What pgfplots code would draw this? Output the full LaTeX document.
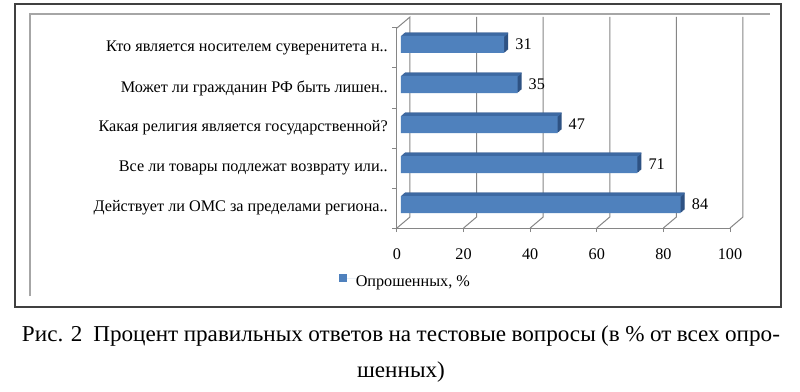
\documentclass[border=0pt]{standalone}
\usepackage{fontspec}
\setmainfont{Liberation Serif}
\newfontfamily\capfont[FakeStretch=1.02]{Liberation Serif}
\usepackage{pgfplots}
\pgfplotsset{compat=1.18}
\definecolor{gridgray}{HTML}{868686}
\definecolor{barfront}{HTML}{4F81BD}
\definecolor{bartop}{HTML}{3D69A2}
\definecolor{barside}{HTML}{2E5283}
\definecolor{framegray}{HTML}{404040}
\definecolor{innergray}{HTML}{A6A6A6}
\newcommand{\lblfont}{\fontsize{16.2}{19}\selectfont}
\begin{document}
\begin{tikzpicture}[x=1pt,y=1pt]
\useasboundingbox (-397,228) rectangle (403,-163);
\fill[white] (-397,228) rectangle (403,-163);
\draw[innergray, line width=1.2pt] (-367,-68) -- (-367,214) -- (373,214);
\draw[framegray, line width=1.6pt] (-382,224) rectangle (384,-79);
\begin{axis}[
  anchor=origin, at={(0pt,0pt)},
  x=3.33pt, y=1pt,
  xmin=0, xmax=100, ymin=0, ymax=200,
  clip=false,
  axis x line=bottom, axis y line=left,
  axis line style={gridgray, line width=1pt, -},
  tick align=outside,
  major tick length=4pt,
  tick style={gridgray, line width=1pt},
  y tick style={draw=none},
  xtick={0,20,40,60,80,100},
  ytick={20,60,100,140,180},
  yticklabels={Действует ли ОМС за пределами региона..,
               Все ли товары подлежат возврату или..,
               Какая религия является государственной?\hspace{10pt},
               Может ли гражданин РФ быть лишен..,
               Кто является носителем суверенитета н..},
  /pgf/number format/assume math mode=true,
  ticklabel style={font=\lblfont, text=black},
  yticklabel style={anchor=east, inner sep=0pt, xshift=-5pt},
  xticklabel style={anchor=base, inner sep=0pt, yshift=-27pt},
  legend style={at={(axis cs:-17.4,-53)}, anchor=west, draw=none, fill=none,
    inner sep=0pt, font=\lblfont, legend cell align=left,
    nodes={inner sep=0pt}},
  legend image code/.code={\fill[barfront] (0pt,-4pt) rectangle (8pt,4pt);
    \path (0pt,0pt) -- (16.5pt,0pt);},
]
% back wall and floor
\addplot[gridgray, line width=1pt, forget plot] coordinates {(0,0) (3.9,11) (3.9,211) (0,200)};
\addplot[gridgray, line width=1pt, forget plot] coordinates {(20,0) (23.9,11) (23.9,211)};
\addplot[gridgray, line width=1pt, forget plot] coordinates {(40,0) (43.9,11) (43.9,211)};
\addplot[gridgray, line width=1pt, forget plot] coordinates {(60,0) (63.9,11) (63.9,211)};
\addplot[gridgray, line width=1pt, forget plot] coordinates {(80,0) (83.9,11) (83.9,211)};
\addplot[gridgray, line width=1pt, forget plot] coordinates {(100,0) (103.9,11) (103.9,211)};
% y tick marks
\addplot[gridgray, line width=1pt, forget plot] coordinates {(-1.5,0) (0,0)};
\addplot[gridgray, line width=1pt, forget plot] coordinates {(-1.5,40) (0,40)};
\addplot[gridgray, line width=1pt, forget plot] coordinates {(-1.5,80) (0,80)};
\addplot[gridgray, line width=1pt, forget plot] coordinates {(-1.5,120) (0,120)};
\addplot[gridgray, line width=1pt, forget plot] coordinates {(-1.5,160) (0,160)};
\addplot[gridgray, line width=1pt, forget plot] coordinates {(-1.5,200) (0,200)};
% bar depth (side faces)
\pgfplotsinvokeforeach{1,2,3,4,5,6}{
\addplot[xbar, bar width=17, fill=barside, draw=none, forget plot,
  xshift=4pt+#1*0.667pt, yshift=3.5pt+#1*0.583pt]
  coordinates {(31,180) (35,140) (47,100) (71,60) (84,20)};
}
% bar top faces
\pgfplotsinvokeforeach{1,2,3,4,5,6}{
\addplot[xbar, bar width=1.2, fill=bartop, draw=none, forget plot,
  xshift=4pt+#1*0.667pt, yshift=3.5pt+7.9pt+#1*0.583pt]
  coordinates {(31,180) (35,140) (47,100) (71,60) (84,20)};
}
% front faces
\addplot[xbar, bar width=17, fill=barfront, draw=none,
  xshift=4pt, yshift=3.5pt,
  nodes near coords,
  every node near coord/.append style={font=\lblfont, text=black, anchor=west, inner sep=0pt, xshift=11pt}]
  coordinates {(31,180) (35,140) (47,100) (71,60) (84,20)};
\addlegendentry{Опрошенных, \%}
\end{axis}
\node[anchor=base, font=\capfont\fontsize{22.7}{27}\selectfont, inner sep=0pt] at (4,-113)
  {\makebox[758pt][s]{Рис. 2\ \ Процент правильных ответов на тестовые вопросы (в \% от всех опро-}};
\node[anchor=base, font=\capfont\fontsize{22.7}{27}\selectfont, inner sep=0pt] at (4,-149) {шенных)};
\end{tikzpicture}
\end{document}
